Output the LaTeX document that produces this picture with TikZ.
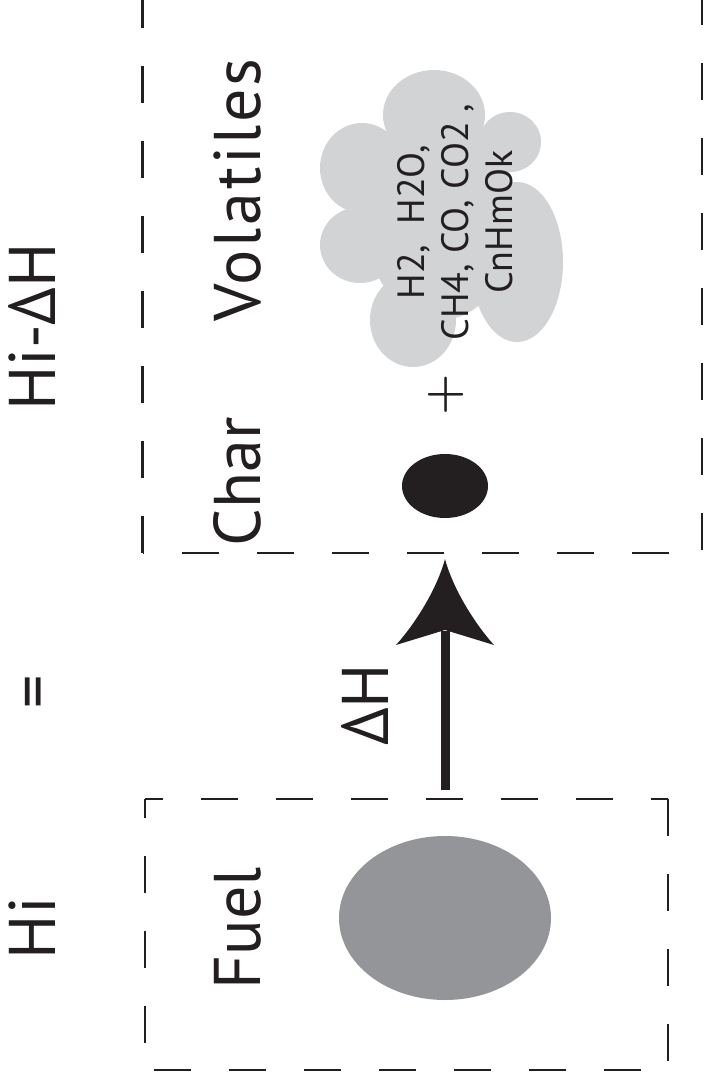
\documentclass[tikz,border=0pt]{standalone}
\usepackage{fontspec}
\newfontfamily\ptsans{PT Sans}
\usetikzlibrary{calc,shapes.geometric}
\definecolor{ink}{HTML}{231F20}
\definecolor{fuelgray}{HTML}{939598}
\definecolor{cloudgray}{HTML}{D1D3D4}
\tikzset{
  boxarea/.style={rectangle, inner sep=0pt, outer sep=0pt, draw=none},
  boxside/.style={draw=ink, line width=2.6pt, line cap=butt, dash pattern=on 37pt off 38pt},
  biglabel/.style={rotate=90, anchor=base, text=ink, inner sep=0pt,
    font=\ptsans\fontsize{66}{72}\selectfont},
  pluslabel/.style={text=ink, inner sep=0pt, font=\bfseries\fontsize{47}{52}\selectfont},
  gaslabel/.style={rotate=90, text=ink, align=center, inner sep=0pt,
    font=\ptsans\fontsize{38}{44}\selectfont},
  particle/.style={ellipse, inner sep=0pt, outer sep=0pt, draw=none},
}
\begin{document}
\begin{tikzpicture}[x=1pt,y=-1pt]
\useasboundingbox (0,0) rectangle (704,1086);

% boxes
\node[boxarea, minimum width=559.3pt, minimum height=593pt] (topbox) at (422.35,256.5) {};
\node[boxarea, minimum width=523pt, minimum height=271pt] (fuelbox) at (406.5,934.5) {};

\draw[boxside, dash phase=35.7pt] (topbox.south west) -- (topbox.south east);
\draw[boxside, dash phase=0pt] (topbox.south west) -- (topbox.north west);
\draw[boxside, dash phase=72pt] (topbox.south east) -- (topbox.north east);

\draw[boxside, dash phase=19pt] (fuelbox.north west) -- (fuelbox.north east);
\draw[boxside, dash phase=0pt] (fuelbox.north east) -- (fuelbox.south east);
\draw[boxside, dash phase=66pt] (fuelbox.south west) -- (fuelbox.south east);
\draw[boxside, dash phase=18pt] (fuelbox.north west) -- (fuelbox.south west);

% cloud of volatiles
\begin{scope}[fill=cloudgray]
  \fill (434,115) ellipse [x radius=51, y radius=45];
  \fill (510,142) ellipse [x radius=31, y radius=30];
  \fill (517,262) ellipse [x radius=46, y radius=80];
  \fill (413,320) ellipse [x radius=43, y radius=47];
  \fill (360,245) ellipse [x radius=40, y radius=38];
  \fill (362,168) ellipse [x radius=42, y radius=45];
  \fill (440,220) ellipse [x radius=75, y radius=100];
\end{scope}

% particles
\node[particle, fill=fuelgray, minimum width=212pt, minimum height=164pt] (fuel) at (445,918) {};
\node[particle, fill=ink, minimum width=86pt, minimum height=64pt] (char) at (445,486) {};

% arrow
\coordinate (tail) at ($(fuelbox.north -| fuel.center)+(0,-9)$);
\coordinate (tip) at ($(topbox.south -| fuel.center)+(0,6)$);
\draw[line width=9pt, ink] (tail) -- ($(tip)+(0,72)$);
\fill[ink] (tip) .. controls ($(tip)+(-8,30)$) and ($(tip)+(-30,65)$) .. ($(tip)+(-49,86)$)
  -- ($(tip)+(0,71)$) -- ($(tip)+(49,86)$)
  .. controls ($(tip)+(30,65)$) and ($(tip)+(8,30)$) .. (tip) -- cycle;

% labels
\node[biglabel] (hi) at (55,928) {Hi};
\node[biglabel] (eq) at (55,692) {=};
\node[biglabel] (hidh) at (55,327) {Hi-ΔH};
\node[biglabel] (charlbl) at (260,482) {Char};
\node[biglabel] (vollbl) at (260,190) {\addfontfeature{LetterSpace=4}Volatiles};
\node[biglabel] (fuellbl) at (260,928) {Fuel};
\node[biglabel] (dh) at (388,705) {ΔH};
\node[pluslabel] (plus) at (446,395) {+};
\node[gaslabel] (gases) at (455,222) {H2,\ \ H2O,\\CH4, CO, CO2 ,\\CnHmOk};
\end{tikzpicture}
\end{document}
